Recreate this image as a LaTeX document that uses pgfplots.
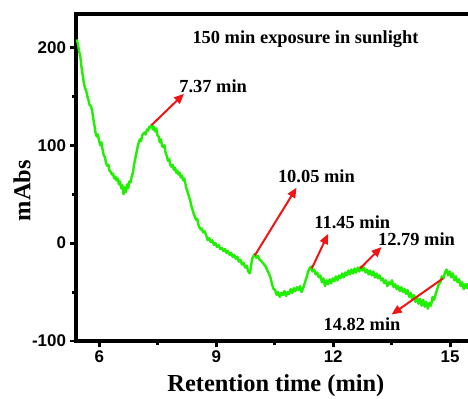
\documentclass[border=0pt]{standalone}
\usepackage{fontspec}
\setmainfont{Liberation Serif}
\setsansfont{Liberation Sans}
\usepackage{pgfplots}
\pgfplotsset{compat=1.18}
\usetikzlibrary{arrows.meta}
\definecolor{lgreen}{RGB}{30,240,0}
\definecolor{ared}{RGB}{240,20,20}
\begin{document}
\begin{tikzpicture}
\path[use as bounding box] (-76bp,-58bp) rectangle (392bp,341bp);
\begin{axis}[
 at={(0,0)}, anchor=south west,
 scale only axis, width=392bp, height=327bp,
 xmin=5.40, xmax=15.46, ymin=-100, ymax=234,
 axis lines*=left,
 axis line style={draw=none},
 tick align=outside,
 major tick length=6.5bp, minor tick length=4bp,
 tick style={black, line width=3pt},
 major tick style={black, line width=3pt},
 minor tick style={black, line width=3pt},
 xtick={6,9,12,15}, xticklabels={6,9,12,15},
 minor xtick={7.5,10.5,13.5},
 ytick={-100,0,100,200}, yticklabels={-100,0,100,200},
 minor ytick={-50,50,150},
 ticklabel style={font=\sffamily\bfseries\fontsize{17}{17}\selectfont},
 xlabel={Retention time (min)},
 ylabel={mAbs},
 xlabel style={font=\bfseries\fontsize{24.5}{24.5}\selectfont, at={(axis description cs:0.51,-0.135)}, anchor=center},
 ylabel style={font=\bfseries\fontsize{24.5}{24.5}\selectfont, at={(axis description cs:-0.138,0.46)}, anchor=center},
 clip=false,
]
\draw[black, line width=4pt, line cap=rect] (rel axis cs:1.02,1) -- (rel axis cs:0,1) -- (rel axis cs:0,0) -- (rel axis cs:1.02,0);
\addplot[lgreen, line width=2.4pt, line join=round] coordinates {
(5.42,208)(5.45,203)(5.48,196)(5.51,191)(5.54,180)(5.57,172)(5.60,164)(5.63,158)(5.66,156)(5.69,150)
(5.72,146)(5.75,141)(5.78,140)(5.81,136)(5.84,128)(5.87,121)(5.90,113)(5.93,109)(5.96,111)(5.99,105)
(6.02,100)(6.05,103)(6.08,96)(6.11,90)(6.14,88)(6.17,82)(6.20,79)(6.23,80)(6.26,74)(6.29,73)
(6.32,70)(6.35,71)(6.38,66)(6.41,68)(6.44,64)(6.47,66)(6.50,60)(6.53,63)(6.56,56)(6.59,59)
(6.62,50)(6.65,57)(6.68,52)(6.71,60)(6.74,56)(6.77,63)(6.80,62)(6.83,68)(6.86,72)(6.89,80)
(6.92,86)(6.95,92)(6.98,98)(7.01,103)(7.04,106)(7.07,104)(7.10,110)(7.13,112)(7.16,113)(7.19,111)
(7.22,116)(7.25,115)(7.28,119)(7.31,118)(7.34,121)(7.37,116)(7.40,119)(7.43,114)(7.46,117)(7.49,110)
(7.52,109)(7.55,103)(7.58,106)(7.61,99)(7.64,98)(7.67,100)(7.70,92)(7.73,89)(7.76,84)(7.79,86)
(7.82,80)(7.85,78)(7.88,80)(7.91,75)(7.94,77)(7.97,72)(8.00,74)(8.03,70)(8.06,72)(8.09,67)
(8.12,69)(8.15,64)(8.18,66)(8.21,60)(8.24,55)(8.27,52)(8.30,47)(8.33,44)(8.36,38)(8.39,34)
(8.42,30)(8.45,27)(8.48,24)(8.51,25)(8.54,19)(8.57,16)(8.60,14)(8.63,15)(8.66,11)(8.70,12)
(8.74,8)(8.78,3)(8.82,5)(8.86,1)(8.90,3)(8.94,-2)(8.98,0)(9.02,-4)(9.06,-2)(9.10,-6)
(9.14,-5)(9.18,-8)(9.22,-6)(9.26,-10)(9.30,-8)(9.34,-12)(9.38,-10)(9.42,-14)(9.46,-12)(9.50,-16)
(9.54,-14)(9.58,-19)(9.62,-17)(9.66,-22)(9.70,-20)(9.74,-25)(9.78,-23)(9.82,-29)(9.86,-31)(9.89,-24)
(9.92,-16)(9.96,-13)(9.99,-11)(10.03,-15)(10.07,-13)(10.11,-17)(10.15,-18)(10.19,-20)(10.23,-22)(10.27,-24)
(10.31,-28)(10.35,-31)(10.39,-35)(10.43,-42)(10.47,-47)(10.51,-48)(10.55,-53)(10.59,-50)(10.63,-55)(10.67,-51)
(10.71,-53)(10.75,-49)(10.79,-54)(10.83,-50)(10.87,-52)(10.91,-47)(10.95,-51)(10.99,-46)(11.03,-49)(11.07,-45)
(11.11,-48)(11.15,-44)(11.19,-50)(11.23,-46)(11.27,-41)(11.31,-36)(11.35,-30)(11.39,-26)(11.43,-24)(11.47,-29)
(11.51,-27)(11.55,-32)(11.59,-30)(11.63,-35)(11.67,-33)(11.71,-40)(11.75,-36)(11.79,-44)(11.83,-38)(11.87,-42)
(11.91,-37)(11.95,-41)(11.99,-36)(12.03,-39)(12.07,-34)(12.11,-38)(12.15,-33)(12.19,-36)(12.23,-31)(12.27,-35)
(12.31,-30)(12.35,-33)(12.39,-28)(12.43,-32)(12.47,-27)(12.51,-31)(12.55,-26)(12.59,-30)(12.63,-25)(12.67,-29)
(12.71,-24)(12.75,-28)(12.79,-25)(12.83,-30)(12.87,-27)(12.91,-32)(12.95,-28)(12.99,-33)(13.03,-29)(13.07,-35)
(13.11,-31)(13.15,-36)(13.19,-33)(13.23,-38)(13.27,-36)(13.31,-41)(13.35,-38)(13.39,-44)(13.43,-40)(13.47,-42)
(13.51,-38)(13.55,-45)(13.59,-42)(13.63,-47)(13.67,-44)(13.71,-49)(13.75,-45)(13.79,-50)(13.83,-47)(13.87,-52)
(13.91,-48)(13.95,-55)(13.99,-51)(14.03,-58)(14.07,-53)(14.11,-60)(14.15,-55)(14.19,-62)(14.23,-57)(14.27,-64)
(14.31,-58)(14.35,-65)(14.39,-60)(14.43,-67)(14.47,-61)(14.51,-64)(14.55,-55)(14.59,-58)(14.63,-52)(14.67,-47)
(14.71,-42)(14.75,-40)(14.79,-34)(14.83,-36)(14.87,-30)(14.91,-27)(14.95,-33)(14.99,-29)(15.03,-35)(15.07,-31)
(15.11,-38)(15.15,-34)(15.19,-40)(15.23,-37)(15.27,-44)(15.31,-40)(15.35,-47)(15.39,-42)(15.43,-46)(15.46,-41)
};
\tikzset{arr/.style={ared, line width=2pt, -{Triangle[length=10bp,width=8.5bp]}}}
\draw[arr] (axis cs:7.34,120.5) -- (axis cs:8.17,152.5);
\draw[arr] (axis cs:9.99,-12.5) -- (axis cs:11.06,56.6);
\draw[arr] (axis cs:11.45,-26) -- (axis cs:11.87,9.4);
\draw[arr] (axis cs:12.69,-26) -- (axis cs:13.24,-4);
\draw[arr] (axis cs:14.82,-36) -- (axis cs:13.50,-73);
\tikzset{ann/.style={font=\bfseries\fontsize{18.5}{18.5}\selectfont, inner sep=0pt}}
\node[ann] at (axis cs:11.29,208.4) {150 min exposure in sunlight};
\node[ann] at (axis cs:8.92,160) {7.37 min};
\node[ann] at (axis cs:11.57,68) {10.05 min};
\node[ann] at (axis cs:12.49,21.5) {11.45 min};
\node[ann] at (axis cs:14.14,3.6) {12.79 min};
\node[ann] at (axis cs:12.74,-83) {14.82 min};
\end{axis}
\end{tikzpicture}
\end{document}
